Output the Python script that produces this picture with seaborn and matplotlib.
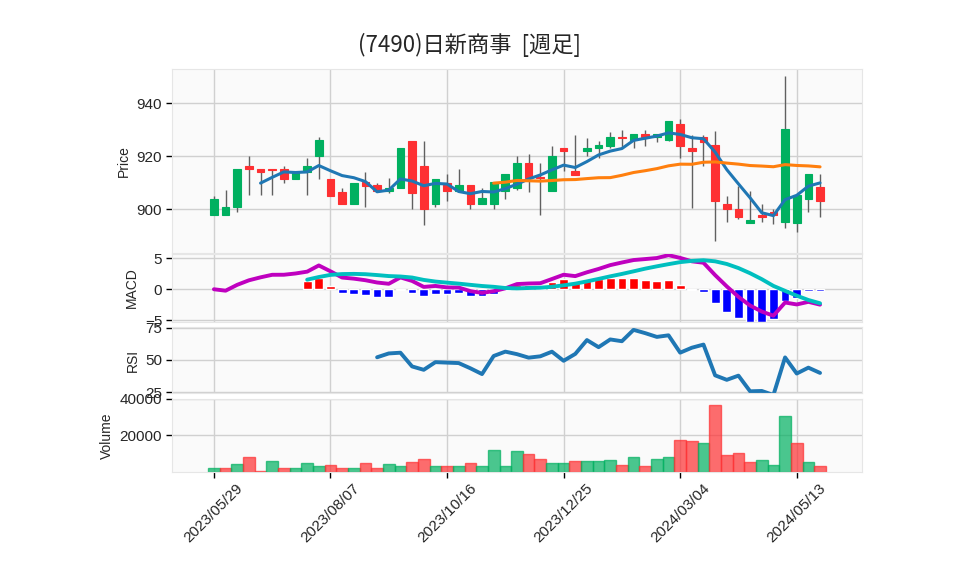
import numpy as np
import pandas as pd
import seaborn as sns
import matplotlib
matplotlib.use("Agg")
import matplotlib.pyplot as plt

# weekly OHLCV
opens = [897.8, 897.8, 900.9, 916.3, 915.2, 915.2, 915.2, 911.3, 914.2, 920.0,
         911.4, 906.5, 902.2, 910.4, 909.1, 907.0, 908.2, 925.6, 916.3, 902.2,
         910.1, 907.0, 909.1, 902.2, 902.2, 907.0, 908.2, 917.5, 912.3, 907.0,
         923.2, 914.3, 922.2, 923.0, 924.0, 927.3, 926.0, 928.4, 927.2, 926.0,
         932.2, 923.2, 927.2, 924.3, 902.2, 900.3, 895.0, 898.1, 899.1, 895.4,
         895.0, 904.0, 908.5]
highs = [905.1, 907.2, 915.2, 920.0, 915.2, 915.2, 916.2, 914.1, 919.2, 927.2,
         911.4, 908.2, 910.1, 914.2, 910.1, 912.0, 923.2, 925.6, 925.6, 911.4,
         913.2, 915.2, 909.1, 908.2, 910.4, 913.3, 920.0, 921.0, 917.5, 924.0,
         923.2, 928.1, 927.0, 925.6, 929.2, 930.0, 928.4, 930.1, 928.4, 933.3,
         933.9, 928.0, 928.1, 929.4, 905.1, 908.9, 907.0, 902.2, 900.3, 950.4,
         905.3, 913.3, 913.3]
lows = [897.8, 897.8, 899.1, 905.3, 905.3, 905.3, 910.1, 911.3, 905.3, 911.4,
        905.1, 902.2, 902.2, 901.0, 907.0, 906.1, 908.2, 900.0, 894.3, 901.0,
        903.2, 907.0, 900.0, 902.2, 900.0, 904.0, 907.2, 906.6, 898.1, 907.0,
        914.6, 913.0, 920.0, 919.2, 923.2, 923.4, 923.0, 924.0, 925.3, 925.6,
        919.2, 900.4, 916.5, 888.2, 895.2, 896.5, 895.0, 895.4, 894.4, 893.2,
        891.4, 899.1, 897.2]
closes = [904.0, 901.1, 915.2, 915.1, 914.2, 914.9, 911.3, 914.1, 916.2, 926.2,
          905.1, 902.2, 910.1, 908.9, 907.0, 908.2, 923.2, 906.3, 900.0, 911.4,
          907.0, 909.1, 902.2, 904.2, 910.4, 913.3, 917.5, 912.0, 911.8, 920.0,
          922.2, 913.0, 923.2, 924.3, 927.2, 927.0, 928.4, 927.2, 928.4, 933.3,
          924.0, 922.2, 925.3, 903.2, 900.3, 897.2, 895.9, 897.2, 897.8, 930.4,
          905.3, 913.3, 903.2]
volumes = [2000, 2000, 4200, 8100, 550, 5900, 2000, 2000, 4800, 3100,
           3700, 2000, 2000, 4800, 2000, 4200, 3100, 5300, 7000, 3100,
           3100, 3100, 4800, 3100, 11900, 3100, 11400, 9700, 7000, 4800,
           4800, 5900, 5900, 5900, 6400, 3700, 8100, 3100, 7000, 8100,
           17400, 16900, 15800, 36700, 9200, 10300, 5300, 6400, 3700, 30600,
           15800, 5300, 3100]

tick_pos = [0, 10, 20, 30, 40, 50]
tick_labels = ["2023/05/29", "2023/08/07", "2023/10/16",
               "2023/12/25", "2024/03/04", "2024/05/13"]
title = "(7490)日新商事  [週足]"

up_color = "#00b060"
down_color = "#fe3032"
wick_color = "#606060"

df = pd.DataFrame({"Open": opens, "High": highs, "Low": lows,
                   "Close": closes, "Volume": volumes})
df["x"] = np.arange(len(df))

# indicators as the original chart draws them
df["ma5"] = df["Close"].rolling(5).mean()
df["ma25"] = df["Close"].rolling(25).mean()
ema12 = df["Close"].ewm(span=12, adjust=False).mean()
ema26 = df["Close"].ewm(span=26, adjust=False).mean()
df["macd"] = ema12 - ema26
df["signal"] = df["macd"].rolling(9).mean()
df["macd_hist"] = df["macd"] - df["signal"]
delta = df["Close"].diff()
gain = delta.clip(lower=0).rolling(14).mean()
loss = (-delta.clip(upper=0)).rolling(14).mean()
df["rsi"] = 100 * gain / (gain + loss)

sns.set_style("whitegrid", rc={"axes.facecolor": "#fafafa",
                               "grid.color": "#d0d0d0",
                               "axes.edgecolor": "#e6e6e6"})
plt.rcParams["font.family"] = ["Liberation Sans", "Noto Sans CJK JP", "DejaVu Sans"]

fig = plt.figure(figsize=(9.58, 5.75), dpi=100)
left, width = 0.1795, 0.7203
ax_p = fig.add_axes([left, 0.5600, width, 0.3195])
ax_m = fig.add_axes([left, 0.4405, width, 0.1169])
ax_r = fig.add_axes([left, 0.3160, width, 0.1148])
ax_v = fig.add_axes([left, 0.1797, width, 0.1264])

fig.text(0.49, 0.921, title, ha="center", va="center", fontsize=16,
         family=["Noto Sans CJK JP", "DejaVu Sans"])

# candles
up = df["Close"] >= df["Open"]
cols = np.where(up, up_color, down_color)
ax_p.vlines(df["x"], df["Low"], df["High"], color=wick_color, lw=1, zorder=2)
ax_p.bar(df["x"], df["Close"] - df["Open"], bottom=df["Open"], width=0.66,
         color=cols, edgecolor=cols, lw=0.8, zorder=3)
sns.lineplot(data=df, x="x", y="ma5", ax=ax_p, color="#1f77b4", lw=2.2, zorder=4)
sns.lineplot(data=df, x="x", y="ma25", ax=ax_p, color="#ff7f0e", lw=2.2, zorder=4)
ax_p.set_ylim(883.6, 952.8)
ax_p.set_yticks([900, 920, 940])
ax_p.set_ylabel("Price")

# MACD
hcols = np.where(df["macd_hist"] >= 0, "red", "blue")
ax_m.bar(df["x"], df["macd_hist"], width=0.75, color=hcols, zorder=2)
sns.lineplot(data=df, x="x", y="macd", ax=ax_m, color="#bf00bf", lw=2.8, zorder=3)
sns.lineplot(data=df, x="x", y="signal", ax=ax_m, color="#00bfbf", lw=2.8, zorder=3)
ax_m.set_ylim(-5.23, 5.6)
ax_m.set_yticks([-5, 0, 5])
ax_m.set_ylabel("MACD")

# RSI
sns.lineplot(data=df, x="x", y="rsi", ax=ax_r, color="#1f77b4", lw=2.8)
ax_r.set_ylim(24.3, 75.2)
ax_r.set_yticks([25, 50, 75])
ax_r.set_ylabel("RSI")

# volume, coloured against previous close
vup = df["Close"].diff().fillna(1) >= 0
vcols = np.where(vup, up_color, down_color)
ax_v.bar(df["x"], df["Volume"], width=1.0, color=vcols, alpha=0.7,
         edgecolor=vcols, lw=1, zorder=2)
ax_v.set_ylim(0, 40000)
ax_v.set_yticks([20000, 40000])
ax_v.set_ylabel("Volume")

for ax in (ax_p, ax_m, ax_r, ax_v):
    ax.set_xlim(-3.6, 55.6)
    ax.set_xticks(tick_pos)
    ax.set_xlabel("")
    ax.grid(True, color="#d0d0d0", lw=1)
    ax.set_axisbelow(True)
    ax.tick_params(axis="y", left=True, length=4, width=1, color="black",
                   labelsize=11, pad=3)
    for s in ax.spines.values():
        s.set_color("#e6e6e6")
        s.set_linewidth(0.8)
    ax.yaxis.label.set_size(10)

for ax in (ax_p, ax_m, ax_r):
    ax.tick_params(axis="x", bottom=False, labelbottom=False)

ax_v.set_xticklabels(tick_labels, rotation=45, ha="center")
ax_v.tick_params(axis="x", bottom=True, length=4, width=1, color="black",
                 labelsize=11, pad=3)

fig.savefig("out.png", dpi=100)
